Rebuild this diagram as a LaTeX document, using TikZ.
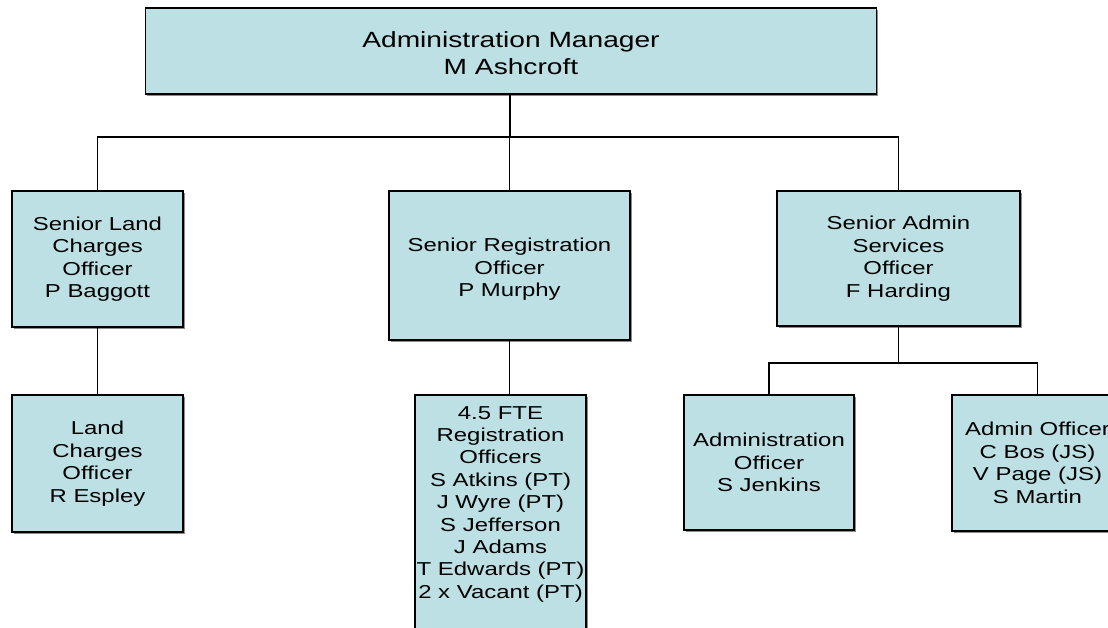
\documentclass[tikz,border=0pt]{standalone}
\usepackage{fontspec}
\setmainfont{Liberation Sans}[FakeStretch=1.28]
\usetikzlibrary{shadows}
\definecolor{boxfill}{RGB}{188,224,228}
\newcommand{\lowerby}[1]{\rule{0pt}{#1}}
\begin{document}
\begin{tikzpicture}[x=1pt,y=-1pt,
  orgbox/.style={draw=black, line width=1.3pt, fill=boxfill, rectangle, inner sep=2pt,
    align=center, font=\fontsize{18.7}{22.5}\selectfont,
    drop shadow={shadow xshift=1.6pt, shadow yshift=-1.6pt, fill=black!45, opacity=1}},
  link/.style={draw=black, line width=1.3pt}]
\useasboundingbox (0,0) rectangle (1108,628);
\clip (0,0) rectangle (1108,628);

\node[orgbox, minimum width=731pt, minimum height=86pt, font=\fontsize{22}{27}\selectfont] (top) at (511,51) {\lowerby{21pt}Administration Manager\\M Ashcroft};

\node[orgbox, minimum width=171pt, minimum height=136pt] (L1) at (97.5,259) {Senior Land\\Charges\\Officer\\P Baggott};
\node[orgbox, minimum width=241pt, minimum height=149pt] (M1) at (509.5,265.5) {\lowerby{21.5pt}Senior Registration\\Officer\\P Murphy};
\node[orgbox, minimum width=243pt, minimum height=135pt] (R1) at (898.5,258.5) {Senior Admin\\Services\\Officer\\F Harding};

\node[orgbox, minimum width=171pt, minimum height=137pt] (L2) at (97.5,463.5) {Land\\Charges\\Officer\\R Espley};
\node[orgbox, minimum width=171pt, minimum height=255pt] (M2) at (500.5,522.5) {};
\node[align=center, inner sep=0pt, anchor=north, font=\fontsize{18.7}{22.4}\selectfont] (M2t) at (500.5,406) {4.5 FTE\\Registration\\Officers\\S Atkins (PT)\\J Wyre (PT)\\S Jefferson\\J Adams\\T Edwards (PT)\\2 x Vacant (PT)};
\node[orgbox, minimum width=170pt, minimum height=135pt] (R2a) at (769,462.5) {Administration\\Officer\\S Jenkins};
\node[orgbox, minimum width=171pt, minimum height=136pt] (R2b) at (1037.5,463) {Admin Officer\\C Bos (JS)\\V Page (JS)\\S Martin};

\coordinate (busA) at (510,137);
\coordinate (busB) at (898,363);

\draw[link] (top.south -| busA) -- (busA);
\draw[link] (L1.north) |- (R1.north |- busA) -- (R1.north);
\draw[link] (M1.north |- busA) -- (M1.north);
\draw[link] (L1.south) -- (L2.north);
\draw[link] (M1.south) -- (M1.south |- M2.north);
\draw[link] (R1.south) -- (R1.south |- busB);
\draw[link] (R2a.north) |- (R2b.north |- busB) -- (R2b.north);
\end{tikzpicture}
\end{document}
